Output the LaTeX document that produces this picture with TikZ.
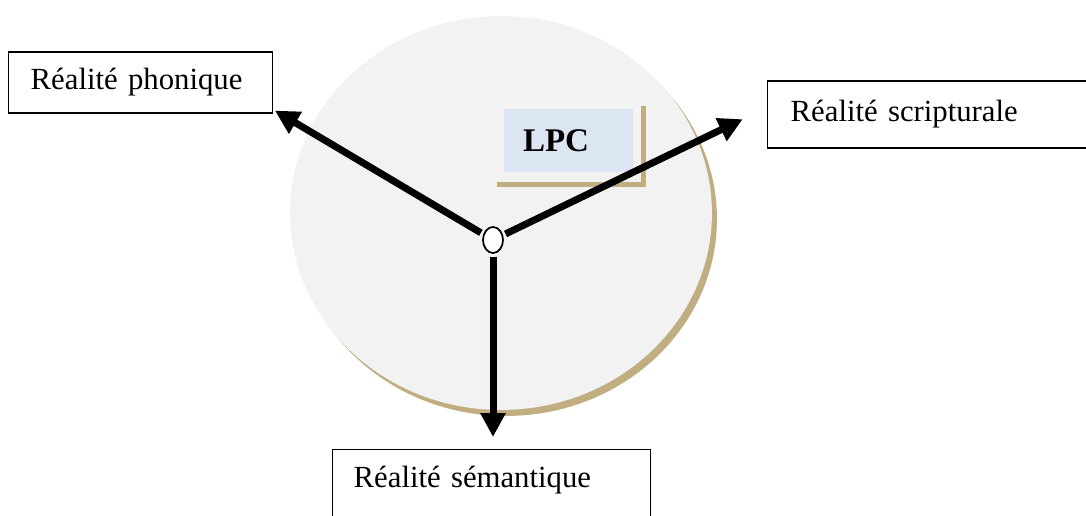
\documentclass[tikz,border=0pt]{standalone}
\usepackage{fontspec}
\setmainfont{Liberation Serif}
\usepackage{tikz}
\usetikzlibrary{shapes.geometric, arrows.meta, positioning, calc}
\usepackage{xcolor}
\definecolor{DiscGray}{HTML}{F2F2F2}
\definecolor{ShadowTan}{HTML}{C0AD80}
\definecolor{LabelBlue}{HTML}{DCE6F2}
\definecolor{InkBlack}{HTML}{000000}
\tikzset{
    % Box styles - plain frames, text on the left
    realite/.style={
        rectangle,
        draw=InkBlack,
        fill=white,
        line width=0.8pt,
        align=left,
        font=\fontsize{17.5}{20}\selectfont
    },
    tag/.style={
        rectangle,
        fill=LabelBlue,
        minimum width=2.58cm,
        minimum height=1.26cm,
        text width=1.82cm,
        inner xsep=0.38cm,
        align=left,
        font=\fontsize{18.8}{22}\selectfont\bfseries
    },
    hubnode/.style={
        ellipse,
        draw=InkBlack,
        fill=white,
        line width=1pt,
        minimum width=0.4cm,
        minimum height=0.52cm,
        inner sep=0pt
    },
    % Arrow styles - thick black
    bigarrow/.style={
        -{Triangle[length=0.48cm, width=0.48cm]},
        line width=0.14cm,
        draw=InkBlack,
        shorten <=1.5pt
    },
    tanline/.style={
        draw=ShadowTan,
        line width=0.1cm
    }
}

\begin{document}
\begin{tikzpicture}[x=0.02cm, y=-0.02cm]
    \clip (0,0) rectangle (1086,516);

    % disc with its shadow
    \fill[ShadowTan] (506,219) ellipse [x radius=4.22cm, y radius=3.94cm];
    \fill[DiscGray] (501,213) ellipse [x radius=4.22cm, y radius=3.94cm];

    \node[tag] (lpc) at (568.5,140.5) {LPC};
    \draw[tanline] ([xshift=-0.14cm, yshift=-0.24cm]lpc.south west)
        -| ([xshift=0.2cm, yshift=0.06cm]lpc.north east);

    \node[hubnode] (hub) at (493,240) {};

    \node[realite, anchor=west, text width=4.4cm, inner xsep=0.44cm,
        minimum height=1.22cm] (phon) at (8,82.5) {Réalité phonique};
    \node[realite, anchor=west, text width=5.68cm, inner xsep=0.46cm,
        minimum height=1.34cm] (scrip) at (767,114.5) {Réalité scripturale};
    \node[realite, anchor=north west, text width=5.52cm, inner xsep=0.42cm,
        inner ysep=0.32cm, text depth=1.3cm] (sem) at (332,449) {Réalité sémantique};

    \draw[bigarrow, shorten >=1pt] (hub) -- ([yshift=0.08cm]phon.south east);
    \draw[bigarrow, shorten >=0.54cm] (hub) -- ([yshift=0.14cm]scrip.west);
    \draw[bigarrow, shorten >=0.24cm] (hub) -- (hub |- sem.north);
\end{tikzpicture}
\end{document}
